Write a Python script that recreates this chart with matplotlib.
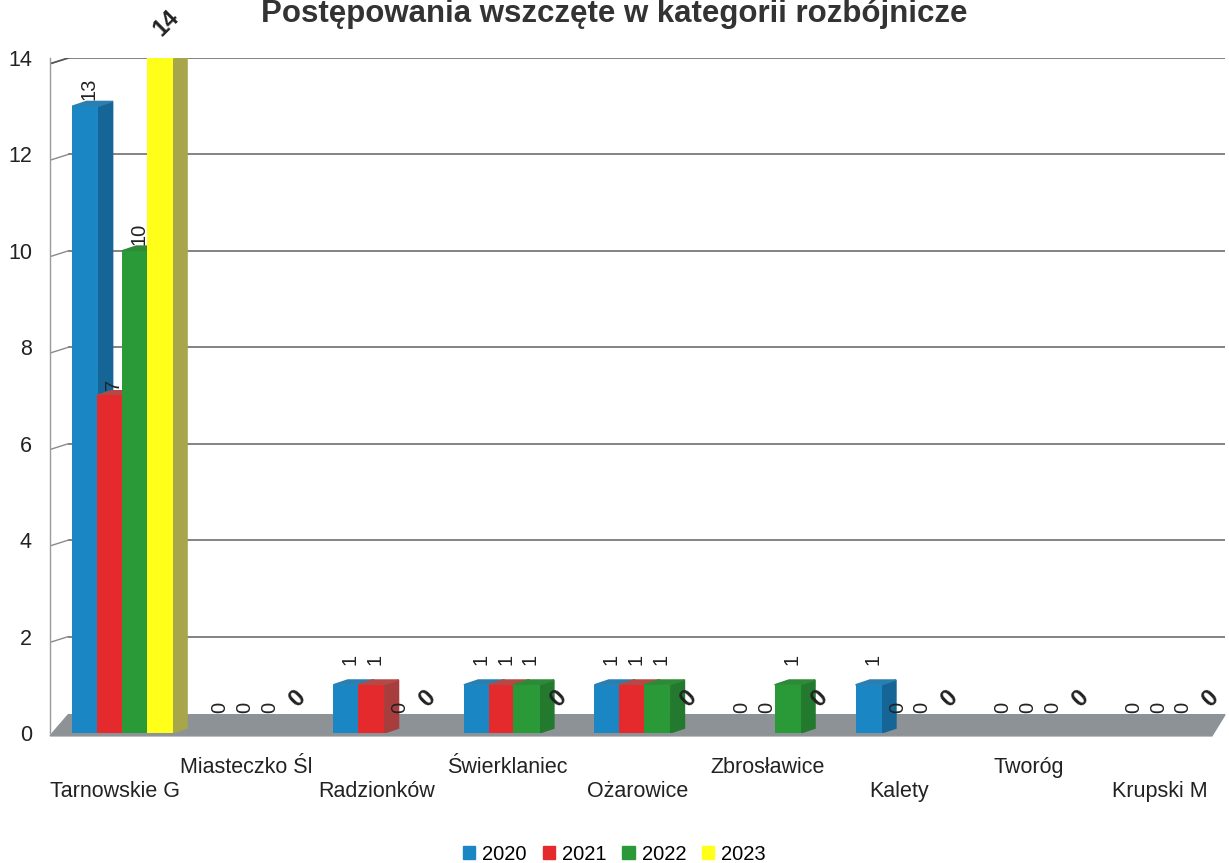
import matplotlib
matplotlib.use("Agg")
import matplotlib.pyplot as plt
from matplotlib.patches import Patch

plt.rcParams["font.family"] = ["Liberation Sans", "DejaVu Sans"]

# data
gminy = ["Tarnowskie G", "Miasteczko Śl", "Radzionków", "Świerklaniec", "Ożarowice",
         "Zbrosławice", "Kalety", "Tworóg", "Krupski M"]
years = ["2020", "2021", "2022", "2023"]
v2020 = [13, 0, 1, 1, 1, 0, 1, 0, 0]
v2021 = [7, 0, 1, 1, 1, 0, 0, 0, 0]
v2022 = [10, 0, 0, 1, 1, 1, 0, 0, 0]
v2023 = [14, 0, 0, 0, 0, 0, 0, 0, 0]
series = [v2020, v2021, v2022, v2023]

front = ["#1b86c4", "#e42a2c", "#2a9a38", "#ffff1a"]
side = ["#156696", "#a83d3d", "#237a2e", "#a8a64a"]
top = ["#2a7fb0", "#b34a45", "#2f8a38", "#d8d84a"]

W, STEP, DX, DY = 0.2, 0.19, 0.11, 0.1

fig = plt.figure(figsize=(12.29, 8.63), dpi=100)
ax = fig.add_axes([50 / 1229, 1 - 733 / 863, 1175 / 1229, 675 / 863])
ax.set_xlim(-0.5, 8.5)
ax.set_ylim(0, 14)

yt = list(range(0, 15, 2))
# back wall grid + side wall slants
ax.hlines(yt[1:], -0.36, 8.5, color="#6e6e6e", lw=1.2, zorder=1)
for v in yt[1:]:
    ax.plot([-0.5, -0.36], [v - 0.12, v], color="#8a8a8a", lw=1.0, zorder=1)
ax.plot([-0.5, -0.36], [14 - 0.12, 14], color="#555", lw=1.2, zorder=1)

# floor
ax.fill([-0.5, 8.4, 8.5, -0.36], [-0.06, -0.06, 0.38, 0.38],
        color="#8d9297", zorder=2, clip_on=False)

for k, vals in enumerate(series):
    lefts = [i - 0.33 + k * STEP for i in range(len(gminy))]
    z = 3 + k
    ax.bar(lefts, vals, width=W, align="edge", color=front[k], zorder=z + 0.5)
    for x, v in zip(lefts, vals):
        if v > 0:
            ax.fill([x + W, x + W + DX, x + W + DX, x + W], [0, DY, v + DY, v],
                    color=side[k], zorder=z)
            ax.fill([x, x + DX, x + W + DX, x + W], [v, v + DY, v + DY, v],
                    color=top[k], zorder=z)
        cx = x + W / 2 + 0.03
        if k < 3:
            off = 0.12 if v > 5 else 0.42
            ax.text(cx, v + off, str(v), rotation=90, ha="center", va="bottom",
                    fontsize=14.5, color="#222", zorder=10)
        else:
            ax.text(cx + 0.02, v + 0.72, str(v), rotation=45, ha="center", va="center",
                    fontsize=17, fontweight="bold", color="#222", zorder=10,
                    clip_on=False)

ax.set_yticks(yt)
ax.set_yticklabels([str(v) for v in yt], fontsize=15.5, color="#222")
ax.tick_params(axis="y", length=0, pad=13)
ax.set_xticks([])
for s in ["top", "right", "bottom"]:
    ax.spines[s].set_visible(False)
ax.spines["left"].set_color("#9a9a9a")
ax.spines["left"].set_linewidth(1.0)

# category labels in two staggered rows
for i, name in enumerate(gminy):
    yrow = -0.72 if i % 2 else -1.22
    ax.text(i, yrow, name, ha="center", va="center", fontsize=15.5, color="#222",
            clip_on=False)

fig.text(0.5, 1 - 22 / 863, "Postępowania wszczęte w kategorii rozbójnicze",
         ha="center", va="baseline", fontsize=22.5, fontweight="bold", color="#333")

handles = [Patch(color=c) for c in front]
fig.legend(handles, years, loc="lower center", bbox_to_anchor=(0.5, -0.022), ncol=4,
           frameon=False, fontsize=14.5, handlelength=0.6, handleheight=0.6,
           columnspacing=0.8, handletextpad=0.35)

fig.savefig("out.png", dpi=100)
